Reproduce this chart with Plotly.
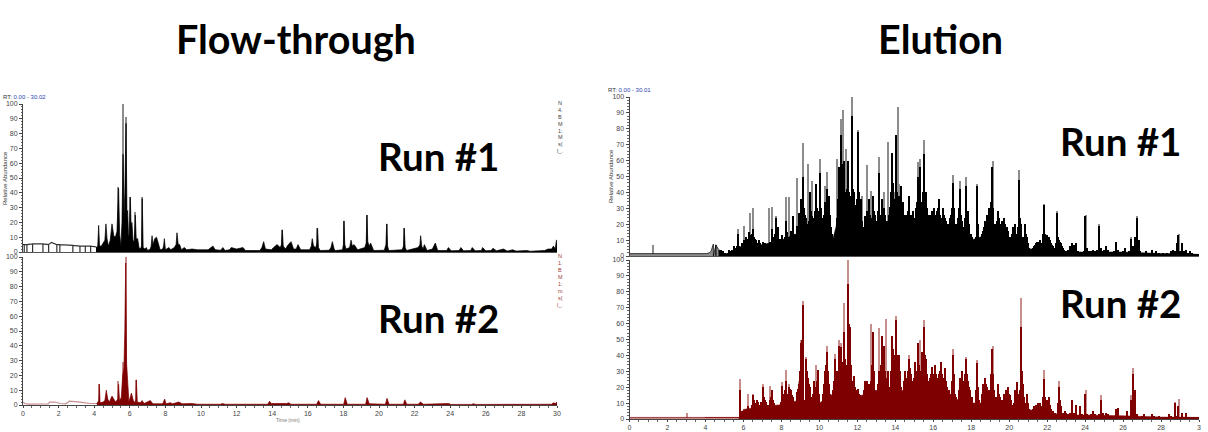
import plotly.graph_objects as go

W, H = 1208, 432

# ---------- Flow-through run 1 (retention time, abundance) ----------
ft1_points = [(4.1,3),(4.2,4),(4.25,18),(4.3,4),(4.4,4),(4.5,6),(4.6,8),(4.66,19),(4.72,9),(4.8,4),(4.9,8),(5.0,19),(5.06,13),
 (5.1,11),(5.19,10),(5.28,14),(5.37,43),(5.43,12),(5.5,4),(5.56,20),(5.62,66),(5.68,24),(5.72,40),(5.79,87),(5.84,26),
 (5.88,28),(5.93,10),(5.97,12),(6.03,37),(6.07,18),(6.12,20),(6.18,8),(6.25,7),(6.31,25),(6.36,9),(6.44,9),(6.52,3),
 (6.6,2),(6.66,4),(6.7,36),(6.75,3),(6.85,2),(6.93,3),(7.0,1),(7.15,2),(7.2,4),(7.25,11),(7.3,5),(7.4,9),(7.5,10),(7.6,6),(7.7,1.5),
 (7.85,2),(7.9,4),(7.94,9),(8.0,1.5),(8.2,3),(8.3,1.5),(8.5,3),(8.6,5),(8.65,13),(8.72,5),(8.8,5),(8.9,1.5),(9.06,3),(9.2,1.5),(9.5,2),
 (9.8,1.5),(10.4,1.5),(10.6,3),(10.67,4),(10.8,1.5),(11.1,1.2),(11.23,3),(11.35,1),(11.6,1.5),(11.7,3),(12,2),(12.36,3),(12.5,1),(13.3,1),(13.42,3),(13.52,7),
 (13.62,2),(13.95,1.5),(14.08,3),(14.27,5),(14.45,3),(14.52,5),(14.57,15),(14.62,4),(14.75,2),(14.87,4.5),(15.06,7),(15.2,2),(15.35,2),(15.45,5),(15.6,1.5),
 (16.1,1.5),(16.2,4),(16.25,9),(16.32,4),(16.45,3),(16.51,6),(16.55,16),(16.6,3),(16.7,1),(17.2,1.2),(17.3,3),(17.38,7),(17.48,2),(17.55,1),(17.95,1.5),(18.0,5),(18.03,21),(18.08,5),(18.15,2),
 (18.35,3),(18.43,8),(18.5,4),(18.6,5),(18.8,1.5),(19.2,3),(19.28,6),(19.32,25),(19.37,7),(19.45,4),(19.53,6),(19.7,1),(20.3,1.2),(20.39,5),(20.43,19),(20.48,4),(20.55,1),
 (21.3,1.5),(21.38,4),(21.42,16),(21.47,3),(21.55,1),(22.2,3),(22.3,5),(22.34,11),(22.4,4),(22.48,2),(22.55,5),(22.7,1),(23.0,2),(23.16,6),(23.3,1),
 (23.8,1),(23.9,3),(24.05,0.8),(24.5,1),(24.6,3),(24.75,0.8),(25.15,1),(25.24,3),(25.4,0.8),(25.75,1),(25.82,3),(26,0.8),(26.3,1),(26.4,2.5),(26.6,0.8),(27,2),
 (27.2,0.6),(27.5,1.5),(27.7,0.6),(28.3,1),(28.5,0.5),(29.3,1),(29.5,2),(29.7,2),(29.8,4),(29.9,2),(29.97,8),(30,8)]
ft1_top_rt = [5.37, 5.62, 5.79, 6.03, 6.31, 6.7, 14.57, 16.55, 18.03, 19.32, 20.43, 21.42]
ft1_top_val = [44, 100, 91, 37, 27, 37, 15, 16, 21, 25, 19, 16]
# Hollow outline at the start of run 1
ft1_low_rt = [0,0.07,0.07,0.07,0.22,0.22,0.22,0.54,0.54,0.54,1.12,1.12,1.12,1.44,1.44,1.44,1.6,1.9,1.9,1.9,2.07,2.07,2.07,2.8,2.8,2.8,3.2,3.2,3.2,3.5,3.5,3.5,3.8,3.8,3.8,4.1]
ft1_low_val = [5,5,0,5,5,0,5,5.5,0,5.5,5.5,0,5.5,5,0,5,6.5,5,0,5,5,0,5,4.5,0,4.5,4,0,4,4,0,4,4,0,4,3.5]

# ---------- Flow-through run 2 ----------
ft2_points = [(4.15,1),(4.26,3),(4.29,14),(4.33,1.5),(4.5,2),(4.6,3),(4.68,10),(4.76,4),(4.85,2),(5.0,6),(5.1,4),(5.2,2),(5.33,4),(5.37,14),
 (5.42,3),(5.52,5),(5.6,20),(5.67,25),(5.72,50),(5.77,96),(5.82,28),(5.88,13),(5.95,2),(6.09,8),(6.2,3),(6.3,1.5),(6.34,4),
 (6.37,17),(6.42,2),(6.6,1.5),(6.69,3),(6.8,1),(7.0,2),(7.15,3),(7.3,0.8),(7.85,0.8),(7.96,4),(8.03,0.8),(8.28,1.5),
 (8.4,0.8),(8.75,2),(8.95,0.8),(9.5,1),(9.8,0.5),(11.1,0.5),(11.2,1),(11.35,0.5),(13.75,0.5),(13.85,2.5),(13.95,1),
 (14.8,1),(14.94,1.5),(15.05,0.5),(16.5,0.5),(16.6,3),(16.72,0.5),(18.02,0.5),(18.1,5),(18.22,0.5),(19.25,0.5),(19.33,5),
 (19.45,0.8),(20.36,0.5),(20.45,4.5),(20.56,0.5),(21.37,0.5),(21.45,3.5),(21.56,0.5),(22.2,0.5),(22.33,2),(22.5,0.5),
 (23.05,0.5),(23.16,1),(23.3,0.5),(23.8,0.5),(23.9,1),(24.05,0.4),(24.55,0.5),(24.6,0.8),(24.75,0.4),(25.2,0.4),(25.3,0.8),(25.45,0.4),(29.5,0.5),(29.7,0.5),(29.8,1.5),(29.9,1),(30,2)]
ft2_top_rt = [4.29, 5.37, 5.62, 5.77, 6.37]
ft2_top_val = [14, 16, 29, 100, 17]
ft2_low_rt = [0,0.1,0.3,1.4,1.5,1.8,2.1,2.4,2.55,2.6,3.2,3.5,3.8,4.15]
ft2_low_val = [2,1,0.6,0.8,2,2,1,0.8,2,2.6,2,1.5,1,1]

# ---------- Elution run 1 ----------
el1_start = 4.0
el1_body = [1,1,1,1,1,1,1,4,3.5,3,
 2,1.5,3.5,2,4,6,5,14,5,8,
 10,12,9,15,13,17,11,8,10,7,
 9,8,6,5,9,17,12,24,18,11,
 13,9,22,15,12,16,25,12,19,27,
 36,50,22,24,19,40,25,22,45,28,
 52,24,19,34,42,38,18,11,10,24,
 56,76,58,60,38,60,30,88,40,28,
 78,34,36,15,25,28,36,20,38,26,
 22,52,24,36,30,20,22,31,65,36,
 76,24,38,44,34,20,26,38,22,28,
 22,30,50,56,32,64,40,26,22,28,
 30,22,28,36,20,30,24,20,18,26,
 46,20,14,24,42,22,16,44,28,14,
 11,9,8,44,10,8,16,22,26,30,
 28,56,20,16,28,18,22,24,18,16,
 10,12,18,20,11,48,20,8,20,12,
 5,4,3,6,8,9,10,7,32,10,
 13,12,8,6,4,27,10,8,5,3,
 3,4,6,8,7,8,3,2,2,3,
 25,5,3,3,4,3,4,19,5,3,
 4,6,4,2,2,3,9,4,2,2,
 3,5,2,3,11,6,12,24,10,3,
 2,2,3,2,1,4,2,3,1,2,
 1,2,1,2,1,3,4,3,8,13,
 3,8,3,4,2,3,2,1,1,1,
 1]
# In-between sticks, 5.05 to 22.95 min
el1_mid_start = 5.05
el1_mid = [1,2,2,3,3,5,6,6,4,6,
 9,8,11,10,14,12,10,7,8,6,
 7,6,5,4,7,10,14,15,9,8,
 10,12,14,11,10,13,14,13,15,20,
 25,30,26,20,22,28,24,28,30,22,
 30,22,26,28,30,26,14,10,14,36,
 45,52,48,40,42,40,38,42,32,36,
 40,30,22,18,24,26,26,24,28,22,
 28,36,26,28,26,22,26,40,46,28,
 40,30,34,30,26,26,28,26,26,24,
 28,34,36,34,40,38,30,26,26,28,
 26,26,30,26,24,26,22,20,24,30,
 30,20,20,30,26,18,24,28,20,14,
 12,10,12,20,10,14,18,22,26,28,
 34,30,20,22,24,20,22,20,18,12,
 11,14,16,14,18,24,12,12,14,8,
 5,4,5,7,9,9,8,14,14,10,
 10,10,7,5,8,12,9,6,4,3]
el1_floor_rt = [4.7,5.0,5.3,6,7,8,9,10,10.7,11,12,12.3,13,14,15,16,17,18,19,20,20.8,21,22,23,24,26,27,28,29,30]
el1_floor_val = [4,1.5,1.5,7,7,10,15,15,10,24,22,15,17,20,22,18,14,10,14,8,6,4.5,4,2.5,2.5,2.5,2,1.5,1.5,1]
el1_top_rt = [1.2,5.7,6.0,6.3,6.5,7.3,7.5,7.7,8.2,8.4,8.8,9.1,9.4,9.6,10.0,10.3,10.4,10.9,11.1,11.2,11.4,11.7,12.0,12.2,12.5,12.7,13.1,13.4,13.6,13.9,14.1,14.2,15.2,15.3,15.5,17.0,17.4,17.7,18.3,19.1,20.5,21.8,22.5,24.0,24.7,26.4,26.7,28.9,29.1]
el1_top_val = [7,17,19,27,30,30,31,25,37,37,49,71,58,47,61,44,53,61,86,92,67,100,79,38,57,41,62,40,72,40,94,45,59,61,73,51,47,50,45,60,54,33,28,26,20,12,25,14,8]
el1_low_rt = [0,4.05,4.2,4.3,4.4,4.42,4.42,4.55,4.55,4.55,4.7]
el1_low_val = [1.5,1.5,2,3,7,7.5,0,7,0,7,4]

# ---------- Elution run 2 ----------
el2_start = 4.0
el2_body = [1,1,1,1,1,1,1,1,1,1,
 1,1,1,1,1,1,1,1,18,5,
 4,3,8,3,3,15,9,12,8,11,
 20,12,9,8,12,18,10,7,5,7,
 21,15,24,14,20,18,14,8,17,22,
 48,72,3,38,26,20,10,24,18,31,
 9,8,16,30,42,22,12,18,38,22,
 46,45,28,55,30,85,58,22,27,18,
 19,15,11,13,24,24,20,24,55,18,
 16,30,20,52,46,22,30,15,52,40,
 62,28,40,20,2,30,25,38,28,22,
 36,20,48,24,42,58,38,22,26,33,
 28,34,24,28,36,22,32,20,18,16,
 40,22,14,1,26,30,22,38,24,18,
 14,9,10,35,12,10,22,26,20,18,
 20,44,18,12,22,14,10,16,18,20,
 15,12,7,18,23,12,58,22,9,16,
 8,5,4,8,9,10,10,8,25,10,
 12,14,6,5,4,3,20,8,3,5,
 3,3,4,12,4,9,2,8,3,1,
 16,3,2,3,5,3,2,3,12,4,
 1,4,3,2,1,2,6,7,1,1,
 2,1,5,2,12,28,18,3,1,1,
 2,3,1,1,1,3,2,1,1,2,
 1,1,1,1,3,2,1,10,2,8,
 1,4,1,4,1,1,1,1,1,1,
 1]
el2_mid_start = 6.05
el2_mid = [4,5,6,3,9,12,10,11,9,9,
 14,11,8,9,14,12,8,6,6,11,
 16,18,18,16,19,15,10,11,19,30,
 50,10,12,30,22,14,16,20,24,16,
 8,11,22,34,30,16,14,24,30,30,
 40,36,32,38,34,60,34,24,20,16,
 16,12,12,18,24,22,22,34,30,16,
 22,24,34,44,30,26,20,30,44,40,
 40,30,30,12,24,26,30,32,24,26,
 26,30,34,30,40,40,28,24,28,28,
 30,28,26,30,28,26,24,18,16,24,
 28,16,10,18,26,24,28,28,20,14,
 10,9,18,20,10,16,22,22,18,16,
 28,28,14,14,16,12,12,16,18,16,
 12,9,10,12,16,18,30,14,10,10,
 6,5,6,8,9,9,8,14,14,10,
 12,9,5,4,3,10,12,4,4,4]
el2_floor_rt = [5.8,5.9,6,7,8,9,10,11,12,13,14,15,16,17,18,19,20,21,22,23,24,26,27,28,30]
el2_floor_val = [1,3,6,8,9,12,10,18,14,18,18,18,16,13,10,10,8,6,4,2.5,2.5,2,1.5,1.2,1]
el2_top_rt = [3.0,5.8,6.2,6.5,7.0,7.4,8.0,8.2,8.4,8.9,9.0,9.1,9.3,9.8,10.4,10.8,11.0,11.1,11.3,11.5,12.7,13.1,13.5,14.0,14.7,15.3,15.5,17.0,17.7,18.3,19.1,20.6,21.8,22.6,24.0,24.8,26.4,26.5,28.7,28.9]
el2_top_val = [4,25,16,16,22,21,23,31,22,24,50,74,39,34,46,41,50,48,73,100,60,57,63,65,40,50,62,44,39,37,46,76,31,24,18,15,15,32,11,12.5]
el2_low_rt = [0,3.0,5.75]
el2_low_val = [1,1,1]

y_ticks = list(range(0, 101, 10))
x_ticks = list(range(0, 31, 2))
x_labels_left = [str(v) for v in x_ticks]
x_labels_right = [str(v) for v in x_ticks[:-1]] + ["3"]

BLACK, GREY = "#000000", "#8c8c8c"
RED, PINK = "#7f0000", "#c88e8e"
FONT = "Liberation Sans, Arial, sans-serif"
TITLE_FONT = "Lato, sans-serif"

fig = go.Figure()

panels = [
    dict(n="", box=(23, 557, 104, 252), dark=BLACK, light=GREY, labels=None),
    dict(n="2", box=(23, 557, 257, 405), dark=RED, light=PINK, labels=x_labels_left),
    dict(n="3", box=(629.5, 1199, 97, 256), dark=BLACK, light=GREY, labels=None),
    dict(n="4", box=(629.5, 1199, 260, 419), dark=RED, light=PINK, labels=x_labels_right),
]

def grid(start, vals, step=0.1):
    return [round(start + i * step, 2) for i in range(len(vals))]

series = [
    dict(rt=[p[0] for p in ft1_points], val=[p[1] for p in ft1_points],
         top_rt=ft1_top_rt, top=ft1_top_val, low_rt=ft1_low_rt, low=ft1_low_val, w=0.07),
    dict(rt=[p[0] for p in ft2_points], val=[p[1] for p in ft2_points],
         top_rt=ft2_top_rt, top=ft2_top_val, low_rt=ft2_low_rt, low=ft2_low_val, w=0.07),
    dict(rt=grid(el1_start, el1_body), val=el1_body, mid_rt=grid(el1_mid_start, el1_mid), mid=el1_mid,
         floor_rt=el1_floor_rt, floor=el1_floor_val,
         top_rt=el1_top_rt, top=el1_top_val, low_rt=el1_low_rt, low=el1_low_val, w=0.06),
    dict(rt=grid(el2_start, el2_body), val=el2_body, mid_rt=grid(el2_mid_start, el2_mid), mid=el2_mid,
         floor_rt=el2_floor_rt, floor=el2_floor_val,
         top_rt=el2_top_rt, top=el2_top_val, low_rt=el2_low_rt, low=el2_low_val, w=0.06),
]

layout_axes = {}
for p, s in zip(panels, series):
    xa, ya = "x" + p["n"], "y" + p["n"]
    x0, x1, yt, yb = p["box"]
    elution = "mid" in s
    fig.add_trace(go.Bar(x=s["top_rt"], y=s["top"], width=s["w"], xaxis=xa, yaxis=ya,
                         marker=dict(color=p["light"], line=dict(width=0)), hoverinfo="skip"))
    if elution:
        fig.add_trace(go.Scatter(x=s["low_rt"], y=s["low"], mode="lines", xaxis=xa, yaxis=ya, fill="tozeroy",
                                 fillcolor=p["light"], line=dict(color=p["dark"], width=0.7)))
        fig.add_trace(go.Scatter(x=s["floor_rt"], y=s["floor"], mode="lines", xaxis=xa, yaxis=ya, fill="tozeroy",
                                 fillcolor=p["dark"], line=dict(color=p["dark"], width=0.5)))
        fig.add_trace(go.Bar(x=s["mid_rt"], y=s["mid"], width=0.07, xaxis=xa, yaxis=ya,
                             marker=dict(color=p["dark"], line=dict(width=0)), hoverinfo="skip"))
        fig.add_trace(go.Bar(x=s["rt"], y=s["val"], width=0.07, xaxis=xa, yaxis=ya,
                             marker=dict(color=p["dark"], line=dict(width=0)), hoverinfo="skip"))
    else:
        fig.add_trace(go.Scatter(x=s["low_rt"], y=s["low"], mode="lines", xaxis=xa, yaxis=ya,
                                 line=dict(color=p["light"] if p["dark"] == RED else "#333333", width=1.2)))
        fig.add_trace(go.Scatter(x=s["rt"], y=s["val"], mode="lines", xaxis=xa, yaxis=ya, fill="tozeroy",
                                 fillcolor=p["dark"], line=dict(color=p["dark"], width=0.7)))
    show = p["labels"] is not None
    xaxis = dict(domain=[x0 / W, x1 / W], range=[0, 30], anchor=ya, showgrid=False, zeroline=False, automargin=False,
                 showline=True, linecolor="#444444" if show else "#555555", linewidth=1,
                 tickmode="array", tickvals=x_ticks if show else [], ticktext=p["labels"] if show else [],
                 ticks="outside" if show else "", ticklen=2, tickcolor="#444444",
                 tickfont=dict(family=FONT, size=7, color="#444444"))
    if show:
        xaxis["minor"] = dict(dtick=0.5, ticks="outside", ticklen=1.5, tickcolor="#666666", showgrid=False)
    yaxis = dict(domain=[1 - yb / H, 1 - yt / H], range=[0, 100], anchor=xa, showgrid=False, zeroline=False, automargin=False,
                 showline=True, linecolor="#444444", linewidth=1, tickmode="array", tickvals=y_ticks,
                 ticks="outside", ticklen=3, tickcolor="#444444",
                 tickfont=dict(family=FONT, size=7, color="#444444"),
                 minor=dict(dtick=2, ticks="outside", ticklen=1.5, tickcolor="#666666", showgrid=False))
    layout_axes["xaxis" + p["n"]] = xaxis
    layout_axes["yaxis" + p["n"]] = yaxis

anns = []
def text(x, y, t, size, family=FONT, color="#000000", angle=0, bold=False, xanchor="center"):
    anns.append(dict(x=x / W, y=1 - y / H, xref="paper", yref="paper", text=f"<b>{t}</b>" if bold else t,
                     showarrow=False, xanchor=xanchor, yanchor="middle", textangle=angle,
                     font=dict(family=family, size=size, color=color)))

text(296, 38, "Flow-through", 39.5, TITLE_FONT, bold=True)
text(940.5, 38, "Elution", 39.5, TITLE_FONT, bold=True)
text(438.5, 156, "Run #1", 38.5, TITLE_FONT, bold=True)
text(438.5, 318, "Run #2", 38.5, TITLE_FONT, bold=True)
text(1120.5, 141, "Run #1", 38.5, TITLE_FONT, bold=True)
text(1120.5, 303, "Run #2", 38.5, TITLE_FONT, bold=True)

text(1, 97, "RT: <span style='color:#2a3fb0'>0.00 - 30.02</span>", 6, xanchor="left", color="#333333")
text(606, 90.5, "RT: <span style='color:#2a3fb0'>0.00 - 30.01</span>", 6, xanchor="left", color="#333333")
text(5, 178, "Relative Abundance", 6, angle=-90, color="#333333")
text(611, 176, "Relative Abundance", 6, angle=-90, color="#333333")
text(288, 420, "Time (min)", 5, color="#777777")

for i, t in enumerate(["N", "4.", "B", "M", "1:", "M", "s(", "l_."]):
    text(560, 103 + i * 6.9, t, 5.5, color="#444444")
for i, t in enumerate(["N", "1.", "B", "M", "1:", "m", "s(", "l_."]):
    text(560, 256 + i * 7, t, 5.5, color="#a33a3a")

fig.update_layout(width=W, height=H, margin=dict(l=0, r=0, t=0, b=0), showlegend=False,
                  paper_bgcolor="white", plot_bgcolor="white", barmode="overlay", bargap=0,
                  annotations=anns, **layout_axes)
fig.write_html("out.html", config={"displayModeBar": False},
               post_script="document.body.style.margin='0';document.body.style.overflow='hidden';")
